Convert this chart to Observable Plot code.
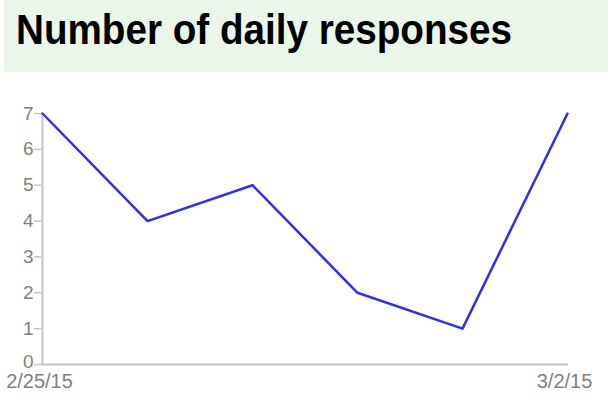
<!DOCTYPE html>
<html>
<head>
<meta charset="utf-8">
<script src="https://cdn.jsdelivr.net/npm/d3@7"></script>
<script src="https://cdn.jsdelivr.net/npm/@observablehq/plot@0.6"></script>
<style>
  html, body { margin: 0; padding: 0; background: #fff; width: 608px; height: 398px; overflow: hidden; }
  #header { position: relative; margin-left: 4px; height: 72px; background: #ebf6ea; }
  #title { position: absolute; left: 12px; top: 7px; font-family: "Liberation Sans", Arial, sans-serif; font-weight: bold; font-size: 42px; color: #000; line-height: 46px; white-space: nowrap; transform: scaleX(0.92); transform-origin: left center; }
  #chart { display: block; }
  #chart [aria-label="y-axis tick label"] { font-size: 19px !important; }
  #chart [aria-label="x-axis tick label"] { font-size: 20px !important; }
</style>
</head>
<body>
<div id="header"><div id="title">Number of daily responses</div></div>
<div id="chart"></div>
<script>
const dates = ["2/25/15", "2/26/15", "2/27/15", "2/28/15", "3/1/15", "3/2/15"];
const responses = [7, 4, 5, 2, 1, 7];
const yTicks = [0, 1, 2, 3, 4, 5, 6, 7];
const yZeroTick = [0];
const xTickLabels = ["2/25/15", "3/2/15"];

const data = dates.map((d, i) => ({date: d, value: responses[i]}));

const chart = Plot.plot({
  width: 608,
  height: 326,
  marginTop: 41,
  marginBottom: 34,
  marginLeft: 41,
  marginRight: 40,
  style: {fontFamily: "'Liberation Sans', Arial, sans-serif", fontSize: "20px", background: "transparent", overflow: "visible"},
  x: {type: "point", domain: dates, padding: 0},
  y: {domain: [0, 7]},
  marks: [
    Plot.ruleY([0], {stroke: "#c4c4c4", strokeWidth: 2}),
    Plot.ruleX([dates[0]], {stroke: "#c4c4c4", strokeWidth: 2}),
    Plot.axisY({ticks: yTicks, tickFormat: d => (d === 0 ? "" : String(d)), tickSize: 7, tickPadding: 1, stroke: "#c4c4c4", strokeWidth: 1.5, strokeOpacity: 1, fill: "#808080", fontSize: 19, label: null}),
    Plot.axisY({ticks: yZeroTick, tickFormat: "d", tickSize: 0, tickPadding: 8, fill: "#808080", fontSize: 19, dy: -3, label: null}),
    Plot.axisX({ticks: xTickLabels, tickSize: 0, tickPadding: 9, dx: -3, fill: "#808080", fontSize: 20, label: null}),
    Plot.line(data, {x: "date", y: "value", stroke: "#2e2ef5", strokeWidth: 2.5})
  ]
});
document.getElementById("chart").appendChild(chart);
</script>
</body>
</html>
